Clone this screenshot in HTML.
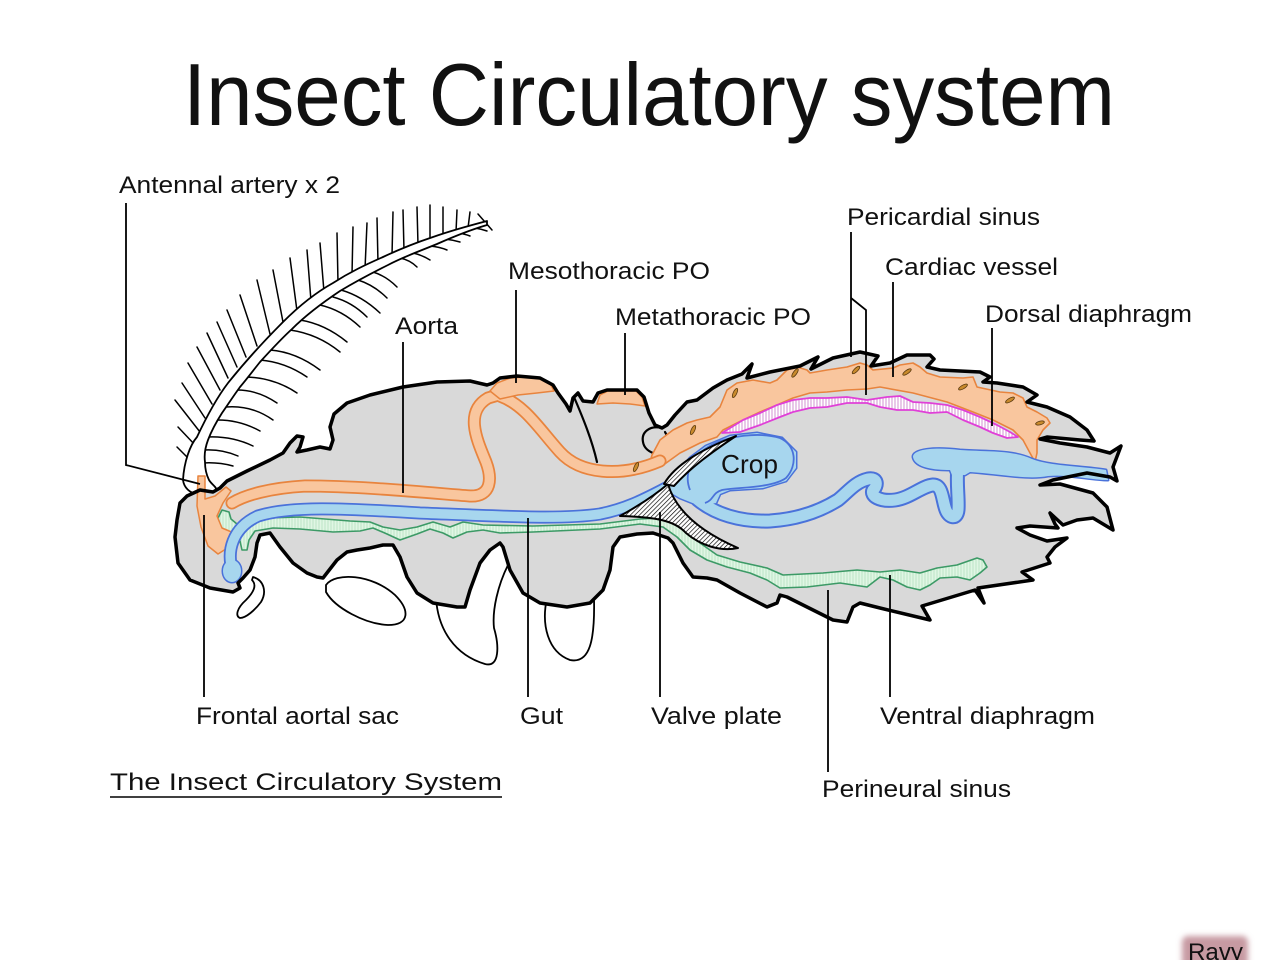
<!DOCTYPE html>
<html>
<head>
<meta charset="utf-8">
<style>
  html,body{margin:0;padding:0;background:#fff;}
  svg{display:block;}
  text{font-family:"Liberation Sans", Arial, sans-serif; fill:#111;}
</style>
</head>
<body>
<svg width="1280" height="960" viewBox="0 0 1280 960" xmlns="http://www.w3.org/2000/svg">
  <defs>
    <pattern id="hatch" patternUnits="userSpaceOnUse" width="3.2" height="3.2" patternTransform="rotate(45)">
      <rect width="3.2" height="3.2" fill="#fff"/>
      <line x1="0" y1="0" x2="0" y2="3.2" stroke="#000" stroke-width="1.3"/>
    </pattern>
    <pattern id="pinkh" patternUnits="userSpaceOnUse" width="3" height="3">
      <rect width="3" height="3" fill="#fff"/>
      <line x1="1" y1="0" x2="1" y2="3" stroke="#c777c7" stroke-width="0.8"/>
    </pattern>
    <pattern id="greenh" patternUnits="userSpaceOnUse" width="3" height="3">
      <rect width="3" height="3" fill="#e0f6e4"/>
      <line x1="1" y1="0" x2="1" y2="3" stroke="#b3e0bf" stroke-width="0.8"/>
    </pattern>
    <filter id="blur" x="-30%" y="-30%" width="160%" height="160%">
      <feGaussianBlur stdDeviation="3"/>
    </filter>
  </defs>

  <rect width="1280" height="960" fill="#fff"/>

  <!-- Title -->
  <text x="183" y="125" font-size="88" textLength="932" lengthAdjust="spacingAndGlyphs">Insect Circulatory system</text>

  <!-- Legs (behind body) -->
  <g fill="#fff" stroke="#000" stroke-width="1.8" stroke-linejoin="round">
    <path d="M 253 577 C 264 580, 267 592, 261 602 C 255 610, 246 618, 240 618 C 235 616, 237 608, 246 600 C 254 592, 257 585, 252 580 Z"/>
    <path d="M 326 585 C 335 572, 372 574, 395 595 C 410 610, 410 625, 388 625 C 365 624, 335 608, 326 592 Z"/>
    <path d="M 436 598 C 438 630, 455 655, 485 664 C 500 668, 499 645, 494 628 C 492 610, 498 585, 508 565 L 505 540 L 470 540 Z"/>
    <path d="M 547 598 C 541 625, 548 652, 570 660 C 590 664, 595 640, 594 598 Z"/>
  </g>

  <!-- Antenna barbs -->
  <g stroke="#000" stroke-width="1.5" fill="none" stroke-linecap="round">
    <line x1="177" y1="447" x2="192" y2="462"/>
    <line x1="178" y1="427" x2="196" y2="446"/>
    <line x1="175" y1="400" x2="200" y2="432"/>
    <line x1="182" y1="383" x2="205" y2="418"/>
    <line x1="188" y1="363" x2="212" y2="404"/>
    <line x1="197" y1="347" x2="220" y2="390"/>
    <line x1="207" y1="333" x2="228" y2="378"/>
    <line x1="217" y1="322" x2="237" y2="367"/>
    <line x1="227" y1="310" x2="246" y2="357"/>
    <line x1="240" y1="295" x2="257" y2="346"/>
    <line x1="257" y1="280" x2="270" y2="334"/>
    <line x1="273" y1="270" x2="283" y2="322"/>
    <line x1="290" y1="258" x2="297" y2="311"/>
    <line x1="307" y1="250" x2="311" y2="301"/>
    <line x1="320" y1="243" x2="324" y2="292"/>
    <line x1="337" y1="233" x2="338" y2="283"/>
    <line x1="353" y1="227" x2="352" y2="275"/>
    <line x1="367" y1="223" x2="365" y2="269"/>
    <line x1="377" y1="218" x2="378" y2="263"/>
    <line x1="393" y1="212" x2="392" y2="256"/>
    <line x1="403" y1="210" x2="404" y2="251"/>
    <line x1="417" y1="207" x2="418" y2="245"/>
    <line x1="430" y1="205" x2="430" y2="240"/>
    <line x1="443" y1="207" x2="443" y2="236"/>
    <line x1="457" y1="210" x2="456" y2="232"/>
    <line x1="470" y1="212" x2="468" y2="228"/>
    <path d="M 203 463 Q 218 462 233 466"/>
    <path d="M 204 450 Q 222 449 238 456"/>
    <path d="M 208 437 Q 232 436 253 446"/>
    <path d="M 218 420 Q 240 420 260 431"/>
    <path d="M 226 407 Q 252 405 273 420"/>
    <path d="M 237 390 Q 258 390 277 403"/>
    <path d="M 246 377 Q 275 378 297 393"/>
    <path d="M 260 360 Q 285 362 307 377"/>
    <path d="M 270 350 Q 296 352 320 370"/>
    <path d="M 290 330 Q 318 334 340 352"/>
    <path d="M 300 320 Q 325 324 347 342"/>
    <path d="M 320 305 Q 342 310 360 327"/>
    <path d="M 333 297 Q 352 302 367 317"/>
    <path d="M 341 290 Q 362 296 380 313"/>
    <path d="M 358 280 Q 374 285 387 298"/>
    <path d="M 373 272 Q 386 276 397 287"/>
    <path d="M 400 258 Q 410 260 417 267"/>
    <path d="M 413 253 Q 422 255 430 260"/>
    <path d="M 430 246 Q 440 247 447 250"/>
    <path d="M 445 239 Q 453 240 460 242"/>
    <path d="M 458 233 Q 465 234 470 236"/>
    <path d="M 475 228 Q 481 229 487 231"/>
    <line x1="478" y1="214" x2="492" y2="230"/>
  </g>
  <!-- Antenna shaft -->
  <path d="M 183 480 C 184 462, 190 445, 197 437 C 205 420, 215 400, 228 383 C 240 368, 255 350, 283 322 C 300 305, 315 293, 333 283 C 350 272, 365 265, 383 257 C 400 249, 415 243, 433 237 C 450 231, 468 226, 487 221 L 487 225 C 470 230, 455 236, 437 244 C 420 251, 403 257, 388 265 C 372 273, 355 282, 340 291 C 322 303, 305 316, 292 329 C 280 340, 270 351, 260 362 C 252 372, 246 380, 240 387 C 232 398, 227 406, 222 413 C 215 424, 211 432, 208 440 C 205 448, 204 455, 205 462 C 205 470, 207 476, 209 480 C 212 485, 217 487, 216 490 C 213 494, 205 495, 197 494 C 190 493, 184 488, 183 480 Z" fill="#fff" stroke="#000" stroke-width="1.8" stroke-linejoin="round"/>

  <!-- Body fill -->
  <path d="M 180 503 L 187 496 L 200 490 L 213 492 L 220 488 L 227 481 L 247 471 L 270 460 L 283 453 L 290 443 L 297 436 L 303 437 L 300 447 L 297 452 L 307 450 L 320 447 L 330 449 L 333 440 L 330 427 L 334 414 L 347 403 L 370 395 L 403 387 L 437 382 L 470 381 L 487 385 L 493 383 L 500 378 L 517 376 L 540 378 L 553 385 L 558 393 L 566 404 L 570 411 L 573 398 L 578 393 L 583 401 L 593 402 L 598 393 L 607 390 L 637 390 L 644 397 L 649 413 L 655 425 L 662 428 L 667 425 L 675 415 L 687 402 L 697 400 L 713 388 L 727 380 L 742 374 L 752 364 L 747 378 L 770 372 L 800 366 L 818 357 L 811 369 L 833 358 L 860 352 L 878 356 L 871 366 L 890 363 L 907 355 L 930 355 L 934 359 L 927 367 L 940 370 L 980 372 L 990 377 L 983 382 L 997 383 L 1023 387 L 1037 395 L 1027 402 L 1047 407 L 1070 417 L 1087 430 L 1094 441 L 1080 440 L 1047 437 L 1040 439 L 1060 443 L 1087 447 L 1110 453 L 1121 446 L 1113 467 L 1117 481 L 1110 477 L 1087 473 L 1053 480 L 1040 485 L 1060 484 L 1093 493 L 1107 507 L 1113 530 L 1093 518 L 1077 520 L 1063 525 L 1050 513 L 1055 524 L 1058 528 L 1030 526 L 1017 528 L 1030 535 L 1047 541 L 1067 538 L 1055 547 L 1047 557 L 1050 563 L 1022 572 L 1033 580 L 978 588 L 984 603 L 975 590 L 922 606 L 930 620 L 880 608 L 860 603 L 853 607 L 847 622 L 833 620 L 807 607 L 787 597 L 780 595 L 777 603 L 767 607 L 740 593 L 717 580 L 707 578 L 693 577 L 683 563 L 673 543 L 668 538 L 653 533 L 637 534 L 620 537 L 613 547 L 610 570 L 603 590 L 590 603 L 567 607 L 540 603 L 523 593 L 510 570 L 503 547 L 500 543 L 490 550 L 480 563 L 470 590 L 465 607 L 457 607 L 433 603 L 417 593 L 407 577 L 400 557 L 393 545 L 383 545 L 370 548 L 357 550 L 347 552 L 337 560 L 323 578 L 317 577 L 307 573 L 293 563 L 280 547 L 270 533 L 260 535 L 257 543 L 255 557 L 250 570 L 243 578 L 238 583 L 240 588 L 233 592 L 210 588 L 190 580 L 178 563 L 175 537 L 177 520 Z" fill="#d9d9d9" stroke="none"/>

  <!-- internal fold lines -->
  <g fill="none" stroke="#000" stroke-width="2.2" stroke-linecap="round">
    <path d="M 574 397 C 583 418, 592 440, 597 462"/>
    <path d="M 662 428 C 650 425, 641 432, 643 442 C 644 448, 648 451, 653 453"/>
    <path d="M 665 432 C 669 438, 668 445, 665 450"/>
  </g>

  <!-- Green ventral diaphragm -->
  <path d="M 222 510 L 229 512 L 231 519 L 237 524 L 245 522 L 267 518 L 300 517 L 350 521 L 370 522 L 383 527 L 400 530 L 417 527 L 433 522 L 450 527 L 463 522 L 483 525 L 533 526 L 600 524 L 640 519 L 660 518 L 673 522 L 687 530 L 700 543 L 717 555 L 740 562 L 767 568 L 783 575 L 823 573 L 857 570 L 880 572 L 900 570 L 920 573 L 937 568 L 957 565 L 977 558 L 983 560 L 987 567 L 980 573 L 970 580 L 957 577 L 940 578 L 930 585 L 920 590 L 907 587 L 893 580 L 880 577 L 867 587 L 840 583 L 807 587 L 780 588 L 767 580 L 750 573 L 727 567 L 707 560 L 690 550 L 677 537 L 663 527 L 640 524 L 600 529 L 533 532 L 500 533 L 483 530 L 467 532 L 453 538 L 443 533 L 430 529 L 417 534 L 400 540 L 387 534 L 373 528 L 360 531 L 333 532 L 300 529 L 273 528 L 255 531 L 249 540 L 247 550 L 242 550 L 240 541 L 232 535 L 222 530 L 217 520 Z" fill="url(#greenh)" stroke="#3c9a66" stroke-width="1.6" stroke-linejoin="round"/>

  <!-- Orange: abdominal dorsal region -->
  <path d="M 648 470 L 652 455 L 660 440 L 673 430 L 687 423 L 697 420 L 710 417 L 720 407 L 727 390 L 737 383 L 753 380 L 770 383 L 777 380 L 787 370 L 797 367 L 807 370 L 810 373 L 827 370 L 847 367 L 860 363 L 867 365 L 873 370 L 893 368 L 900 365 L 913 363 L 920 367 L 927 373 L 940 377 L 963 378 L 973 377 L 977 387 L 1000 392 L 1013 393 L 1023 398 L 1027 407 L 1037 412 L 1047 418 L 1050 423 L 1043 430 L 1037 440 L 1037 453 L 1035 462 L 1030 453 L 1023 440 L 1013 430 L 993 420 L 973 412 L 947 402 L 913 393 L 880 387 L 867 389 L 847 390 L 827 392 L 810 393 L 793 398 L 777 405 L 760 412 L 743 420 L 723 430 L 717 437 L 700 443 L 680 453 L 662 466 Z" fill="#f9c69e" stroke="#e8843e" stroke-width="1.6" stroke-linejoin="round"/>
  <!-- aorta tube -->
  <g fill="none" stroke-linecap="round" stroke-linejoin="round">
    <path d="M 232 503 C 245 495, 270 488, 305 486 C 360 486, 420 492, 470 496 C 492 497, 492 478, 486 462 C 477 440, 464 412, 488 398 L 505 393 M 500 396 C 525 405, 540 430, 560 452 C 580 474, 620 478, 660 461" stroke="#e8843e" stroke-width="13"/>
    <path d="M 232 503 C 245 495, 270 488, 305 486 C 360 486, 420 492, 470 496 C 492 497, 492 478, 486 462 C 477 440, 464 412, 488 398 L 505 393 M 500 396 C 525 405, 540 430, 560 452 C 580 474, 620 478, 660 461" stroke="#f9c69e" stroke-width="9.5"/>
  </g>
  <!-- Meso / Meta PO -->
  <path d="M 490 391 L 497 383 L 510 378 L 525 377 L 540 379 L 551 385 L 554 391 L 537 393 L 518 395 L 500 399 Z" fill="#f9c69e" stroke="#e8843e" stroke-width="1.5" stroke-linejoin="round"/>
  <path d="M 597 404 L 600 395 L 608 391 L 636 391 L 642 397 L 645 406 L 630 404 L 613 403 Z" fill="#f9c69e" stroke="#e8843e" stroke-width="1.5" stroke-linejoin="round"/>
  <!-- Frontal aortal sac -->
  <path d="M 198 476 L 205 476 L 205 499 L 215 496 L 226 487 L 231 491 L 223 503 L 217 516 L 222 528 L 234 533 L 229 547 L 218 554 L 208 546 L 201 527 L 197 506 Z" fill="#f9c69e" stroke="#e8843e" stroke-width="1.5" stroke-linejoin="round"/>

  <!-- Ostia -->
  <g fill="#c98a2c" stroke="#5a3a10" stroke-width="0.8">
    <ellipse cx="636" cy="467" rx="1.8" ry="5" transform="rotate(25 636 467)"/>
    <ellipse cx="693" cy="430" rx="1.8" ry="5" transform="rotate(25 693 430)"/>
    <ellipse cx="735" cy="393" rx="1.8" ry="5" transform="rotate(25 735 393)"/>
    <ellipse cx="795" cy="373" rx="1.8" ry="5" transform="rotate(35 795 373)"/>
    <ellipse cx="856" cy="370" rx="1.8" ry="5" transform="rotate(45 856 370)"/>
    <ellipse cx="907" cy="372" rx="1.8" ry="5" transform="rotate(55 907 372)"/>
    <ellipse cx="963" cy="387" rx="1.8" ry="5" transform="rotate(60 963 387)"/>
    <ellipse cx="1010" cy="400" rx="1.8" ry="5" transform="rotate(60 1010 400)"/>
    <ellipse cx="1040" cy="423" rx="1.8" ry="4.5" transform="rotate(75 1040 423)"/>
  </g>

  <!-- Blue gut: dark pass -->
  <g fill="#4a72da" stroke="#4a72da" stroke-linejoin="round" stroke-linecap="round">
    <path d="M 233 572 C 226 552, 232 528, 258 516 C 290 506, 340 508, 420 513 C 500 516, 560 520, 600 514 C 630 508, 650 496, 670 486" fill="none" stroke-width="13"/>
    <ellipse cx="232" cy="571" rx="9" ry="11" stroke-width="3"/>
    <path d="M 666 490 L 676 474 L 690 458 L 706 446 L 730 436 L 757 433 L 782 438 L 796 452 L 796 468 L 786 481 L 763 488 L 730 490 L 720 494 L 716 503 L 700 506 L 680 498 Z" stroke-width="3"/>
    <path d="M 698 500 C 715 514, 740 522, 770 521 C 800 519, 822 510, 838 500 C 848 492, 855 482, 868 479 C 878 477, 878 486, 873 490 C 870 496, 880 502, 895 500 C 910 498, 922 486, 933 485 C 943 485, 942 500, 946 510 C 949 518, 957 520, 958 510 C 959 498, 956 482, 958 468" fill="none" stroke-width="15"/>
    <path d="M 913 457 C 913 449, 935 447, 960 450 C 990 452, 1012 450, 1032 459 C 1050 466, 1080 466, 1106 470 L 1108 480 C 1090 480, 1070 474, 1048 476 C 1028 480, 1000 474, 970 472 L 965 475 L 952 475 L 950 470 C 935 470, 915 468, 913 457 Z" stroke-width="3"/>
  </g>
  <!-- Blue gut: light pass -->
  <g fill="#a7d6ee" stroke="#a7d6ee" stroke-linejoin="round" stroke-linecap="round">
    <path d="M 233 572 C 226 552, 232 528, 258 516 C 290 506, 340 508, 420 513 C 500 516, 560 520, 600 514 C 630 508, 650 496, 670 486" fill="none" stroke-width="9.5"/>
    <ellipse cx="232" cy="571" rx="9" ry="11" stroke="none"/>
    <path d="M 666 490 L 676 474 L 690 458 L 706 446 L 730 436 L 757 433 L 782 438 L 796 452 L 796 468 L 786 481 L 763 488 L 730 490 L 720 494 L 716 503 L 700 506 L 680 498 Z" stroke="none"/>
    <path d="M 698 500 C 715 514, 740 522, 770 521 C 800 519, 822 510, 838 500 C 848 492, 855 482, 868 479 C 878 477, 878 486, 873 490 C 870 496, 880 502, 895 500 C 910 498, 922 486, 933 485 C 943 485, 942 500, 946 510 C 949 518, 957 520, 958 510 C 959 498, 956 482, 958 468" fill="none" stroke-width="11"/>
    <path d="M 913 457 C 913 449, 935 447, 960 450 C 990 452, 1012 450, 1032 459 C 1050 466, 1080 466, 1106 470 L 1108 480 C 1090 480, 1070 474, 1048 476 C 1028 480, 1000 474, 970 472 L 965 475 L 952 475 L 950 470 C 935 470, 915 468, 913 457 Z" stroke="none"/>
  </g>
  <!-- Crop outline -->
  <path d="M 690 490 C 684 475, 690 458, 708 447 C 728 435, 760 432, 780 438 C 796 445, 798 465, 786 478 C 772 488, 740 487, 722 490 C 712 493, 714 500, 705 503" fill="none" stroke="#4a72da" stroke-width="1.8"/>

  <!-- Valve plate -->
  <path d="M 620 516 C 640 505, 655 495, 668 484 C 674 505, 692 528, 738 548 C 720 552, 700 545, 686 533 C 676 522, 660 517, 620 516 Z" fill="url(#hatch)" stroke="#000" stroke-width="2" stroke-linejoin="round"/>
  <path d="M 664 484 C 675 465, 700 450, 736 436 C 712 452, 690 468, 674 486 Z" fill="url(#hatch)" stroke="#000" stroke-width="2" stroke-linejoin="round"/>

  <!-- Pink dorsal diaphragm -->
  <path d="M 722 433 L 743 420 L 760 413 L 777 405 L 793 400 L 810 398 L 827 398 L 847 397 L 867 400 L 887 397 L 900 396 L 913 402 L 930 403 L 947 405 L 963 410 L 980 417 L 997 425 L 1010 432 L 1018 437 L 1007 438 L 993 433 L 980 427 L 963 420 L 947 412 L 930 413 L 913 410 L 897 410 L 880 407 L 867 403 L 847 403 L 827 407 L 810 408 L 793 412 L 780 417 L 760 425 L 740 432 Z" fill="url(#pinkh)" stroke="#e040d8" stroke-width="1.8" stroke-linejoin="round"/>

  <!-- Body outline on top -->
  <path d="M 180 503 L 187 496 L 200 490 L 213 492 L 220 488 L 227 481 L 247 471 L 270 460 L 283 453 L 290 443 L 297 436 L 303 437 L 300 447 L 297 452 L 307 450 L 320 447 L 330 449 L 333 440 L 330 427 L 334 414 L 347 403 L 370 395 L 403 387 L 437 382 L 470 381 L 487 385 L 493 383 L 500 378 L 517 376 L 540 378 L 553 385 L 558 393 L 566 404 L 570 411 L 573 398 L 578 393 L 583 401 L 593 402 L 598 393 L 607 390 L 637 390 L 644 397 L 649 413 L 655 425 L 662 428 L 667 425 L 675 415 L 687 402 L 697 400 L 713 388 L 727 380 L 742 374 L 752 364 L 747 378 L 770 372 L 800 366 L 818 357 L 811 369 L 833 358 L 860 352 L 878 356 L 871 366 L 890 363 L 907 355 L 930 355 L 934 359 L 927 367 L 940 370 L 980 372 L 990 377 L 983 382 L 997 383 L 1023 387 L 1037 395 L 1027 402 L 1047 407 L 1070 417 L 1087 430 L 1094 441 L 1080 440 L 1047 437 L 1040 439 L 1060 443 L 1087 447 L 1110 453 L 1121 446 L 1113 467 L 1117 481 L 1110 477 L 1087 473 L 1053 480 L 1040 485 L 1060 484 L 1093 493 L 1107 507 L 1113 530 L 1093 518 L 1077 520 L 1063 525 L 1050 513 L 1055 524 L 1058 528 L 1030 526 L 1017 528 L 1030 535 L 1047 541 L 1067 538 L 1055 547 L 1047 557 L 1050 563 L 1022 572 L 1033 580 L 978 588 L 984 603 L 975 590 L 922 606 L 930 620 L 880 608 L 860 603 L 853 607 L 847 622 L 833 620 L 807 607 L 787 597 L 780 595 L 777 603 L 767 607 L 740 593 L 717 580 L 707 578 L 693 577 L 683 563 L 673 543 L 668 538 L 653 533 L 637 534 L 620 537 L 613 547 L 610 570 L 603 590 L 590 603 L 567 607 L 540 603 L 523 593 L 510 570 L 503 547 L 500 543 L 490 550 L 480 563 L 470 590 L 465 607 L 457 607 L 433 603 L 417 593 L 407 577 L 400 557 L 393 545 L 383 545 L 370 548 L 357 550 L 347 552 L 337 560 L 323 578 L 317 577 L 307 573 L 293 563 L 280 547 L 270 533 L 260 535 L 257 543 L 255 557 L 250 570 L 243 578 L 238 583 L 240 588 L 233 592 L 210 588 L 190 580 L 178 563 L 175 537 L 177 520 Z" fill="none" stroke="#000" stroke-width="3.5" stroke-linejoin="round"/>

  <!-- Crop label -->
  <text x="721" y="473" font-size="26" textLength="57" lengthAdjust="spacingAndGlyphs">Crop</text>

  <!-- Leader lines -->
  <g stroke="#000" stroke-width="1.8" fill="none">
    <path d="M 126 203 L 126 465 L 200 484"/>
    <path d="M 403 342 L 403 493"/>
    <path d="M 516 290 L 516 383"/>
    <path d="M 625 333 L 625 395"/>
    <path d="M 851 232 L 851 357"/>
    <path d="M 851 298 L 866 310 L 866 395"/>
    <path d="M 893 282 L 893 377"/>
    <path d="M 992 328 L 992 426"/>
    <path d="M 204 515 L 204 697"/>
    <path d="M 528 518 L 528 697"/>
    <path d="M 660 512 L 660 697"/>
    <path d="M 890 575 L 890 697"/>
    <path d="M 828 590 L 828 772"/>
  </g>

  <!-- Labels -->
  <g font-size="24">
    <text x="119" y="193" textLength="221" lengthAdjust="spacingAndGlyphs">Antennal artery x 2</text>
    <text x="395" y="334" textLength="63" lengthAdjust="spacingAndGlyphs">Aorta</text>
    <text x="508" y="279" textLength="202" lengthAdjust="spacingAndGlyphs">Mesothoracic PO</text>
    <text x="615" y="325" textLength="196" lengthAdjust="spacingAndGlyphs">Metathoracic PO</text>
    <text x="847" y="225" textLength="193" lengthAdjust="spacingAndGlyphs">Pericardial sinus</text>
    <text x="885" y="275" textLength="173" lengthAdjust="spacingAndGlyphs">Cardiac vessel</text>
    <text x="985" y="322" textLength="207" lengthAdjust="spacingAndGlyphs">Dorsal diaphragm</text>
    <text x="196" y="724" textLength="203" lengthAdjust="spacingAndGlyphs">Frontal aortal sac</text>
    <text x="520" y="724" textLength="43" lengthAdjust="spacingAndGlyphs">Gut</text>
    <text x="651" y="724" textLength="131" lengthAdjust="spacingAndGlyphs">Valve plate</text>
    <text x="880" y="724" textLength="215" lengthAdjust="spacingAndGlyphs">Ventral diaphragm</text>
    <text x="822" y="797" textLength="189" lengthAdjust="spacingAndGlyphs">Perineural sinus</text>
    <text x="110" y="790" textLength="392" lengthAdjust="spacingAndGlyphs">The Insect Circulatory System</text>
  </g>
  <line x1="110" y1="797" x2="502" y2="797" stroke="#000" stroke-width="1.5"/>

  <!-- Ravy watermark -->
  <rect x="1182" y="936" width="66" height="32" rx="6" fill="#c79aa2" filter="url(#blur)"/>
  <text x="1188" y="960" font-size="24" textLength="55" lengthAdjust="spacingAndGlyphs">Ravy</text>
</svg>
</body>
</html>
